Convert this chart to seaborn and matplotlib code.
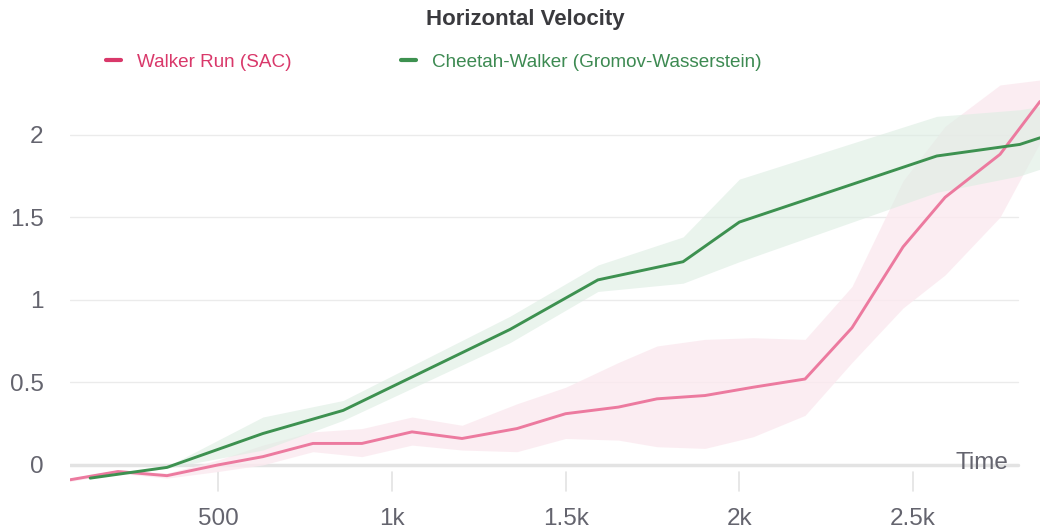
import numpy as np
import pandas as pd
import seaborn as sns
import matplotlib.pyplot as plt
from matplotlib.lines import Line2D

sns.set_style("white")
plt.rcParams['font.family'] = ['Liberation Sans', 'DejaVu Sans']

# values
walker = {
    'step': [74, 212, 353, 500, 629, 773, 914, 1058, 1202, 1360, 1500, 1652, 1763, 1901, 2039, 2189, 2324, 2471, 2592, 2750, 2865],
    'mean': [-0.09, -0.04, -0.065, 0.0, 0.05, 0.13, 0.13, 0.2, 0.16, 0.22, 0.31, 0.35, 0.4, 0.42, 0.47, 0.52, 0.83, 1.32, 1.62, 1.88, 2.2],
    'low':  [-0.1, -0.05, -0.08, -0.04, 0.0, 0.08, 0.05, 0.12, 0.09, 0.08, 0.16, 0.15, 0.11, 0.10, 0.17, 0.30, 0.62, 0.95, 1.15, 1.5, 1.95],
    'high': [-0.08, -0.03, -0.05, 0.03, 0.12, 0.2, 0.22, 0.29, 0.24, 0.37, 0.47, 0.62, 0.72, 0.76, 0.77, 0.76, 1.08, 1.72, 2.05, 2.3, 2.33],
}
cheetah = {
    'step': [132, 353, 629, 860, 1340, 1593, 1838, 2000, 2568, 2807, 2865],
    'mean': [-0.08, -0.015, 0.19, 0.33, 0.82, 1.12, 1.23, 1.47, 1.87, 1.94, 1.98],
    'low':  [-0.08, -0.02, 0.09, 0.27, 0.74, 1.05, 1.1, 1.23, 1.65, 1.75, 1.79],
    'high': [-0.08, -0.01, 0.29, 0.39, 0.9, 1.21, 1.38, 1.73, 2.11, 2.15, 2.17],
}

pink_line = '#EC7A9F'
pink_text = '#D9386A'
pink_band = '#FBE9EF'
green_line = '#3D9150'
green_text = '#3D8A52'
green_band = '#DCEDE2'
grey = '#64646E'

df = pd.concat([
    pd.DataFrame(walker).assign(run='Walker Run (SAC)'),
    pd.DataFrame(cheetah).assign(run='Cheetah-Walker (Gromov-Wasserstein)'),
])

fig = plt.figure(figsize=(10.4, 5.29), dpi=100)
ax = fig.add_axes([70 / 1040, 1 - 493 / 529, 970 / 1040, 413 / 529])

ax.fill_between(walker['step'], walker['low'], walker['high'], color=pink_band, alpha=0.8, lw=0, zorder=1)
ax.fill_between(cheetah['step'], cheetah['low'], cheetah['high'], color=green_band, alpha=0.6, lw=0, zorder=1)
sns.lineplot(data=df, x='step', y='mean', hue='run', palette=[pink_line, green_line],
             linewidth=2.1, legend=False, ax=ax, zorder=3, estimator=None, sort=False)

ax.set_xlim(74, 2865)
ax.set_ylim(-0.17, 2.33)

# grid lines stop a little before the right edge
gmax = (1018 - 70) / 970
for y in [0.5, 1, 1.5, 2]:
    ax.axhline(y, xmax=gmax, color='#EBEBEB', lw=1, zorder=0)
ax.axhline(0, xmax=gmax, color='#E3E3E3', lw=2.5, zorder=0)
for x in [500, 1000, 1500, 2000, 2500]:
    ax.plot([x, x], [-0.045, -0.16], color='#E3E3E3', lw=1.2, zorder=0)

for s in ax.spines.values():
    s.set_visible(False)
ax.set_xticks([500, 1000, 1500, 2000, 2500])
ax.set_xticklabels(['500', '1k', '1.5k', '2k', '2.5k'])
ax.set_yticks([0, 0.5, 1, 1.5, 2])
ax.set_yticklabels(['0', '0.5', '1', '1.5', '2'])
ax.tick_params(axis='both', length=0, labelsize=17.5, colors=grey)
ax.tick_params(axis='y', pad=19)
ax.tick_params(axis='x', pad=11)
ax.set_xlabel('')
ax.set_ylabel('')

ax.text(2773, 0.01, 'Time', fontsize=17.5, color=grey, ha='right', va='center', zorder=4)

fig.text(525 / 1040, 1 - 19 / 529, 'Horizontal Velocity', ha='center', va='center',
         fontsize=16, fontweight='bold', color='#3A3A3E')

handles = [Line2D([], [], color='#D9386A', lw=3), Line2D([], [], color=green_line, lw=3)]
leg = fig.legend(handles, ['Walker Run (SAC)', 'Cheetah-Walker (Gromov-Wasserstein)'],
                 loc='center left', bbox_to_anchor=(89 / 1040, 1 - 62 / 529), ncol=2,
                 frameon=False, handlelength=0.8, handletextpad=0.85, columnspacing=5.8,
                 fontsize=13.6)
for t, c in zip(leg.get_texts(), [pink_text, green_text]):
    t.set_color(c)

fig.savefig('out.png', dpi=100)
